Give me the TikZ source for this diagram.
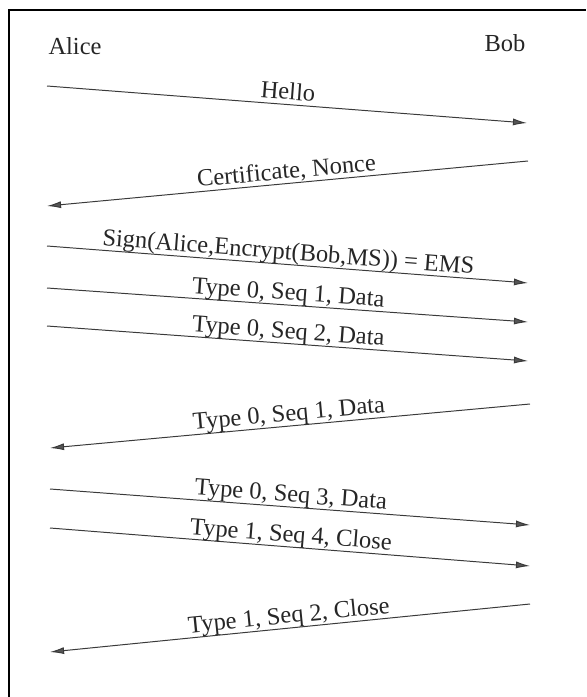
\documentclass[tikz,border=0pt]{standalone}
\usepackage{fontspec}
\setmainfont{Liberation Serif}
\usetikzlibrary{arrows.meta}
\definecolor{msggray}{HTML}{3A3A3A}
\definecolor{tipgray}{HTML}{555555}

\begin{document}
\begin{tikzpicture}[x=0.025cm, y=-0.025cm,
  every node/.style={font=\fontsize{17.4}{20}\selectfont, text=black!85},
  msg/.style={draw=msggray, line width=0.7pt, -{Latex[length=10pt,width=5pt,fill=tipgray]}},
  lbl/.style={sloped, anchor=base, inner sep=0pt, yshift=3.5pt}]
  \useasboundingbox (0,0) rectangle (586,697);
  \draw[line width=1.2pt] (9,697) -- (9,10) -- (586,10);
  \node (alice) at (75,46) {Alice};
  \node (bob) at (505,43) {Bob};
  % message end points
  \coordinate (a1) at (47,86);  \coordinate (b1) at (527,123);
  \coordinate (b2) at (528,161); \coordinate (a2) at (47,206);
  \coordinate (a3) at (47,246); \coordinate (b3) at (528,283);
  \coordinate (a4) at (47,288); \coordinate (b4) at (528,322);
  \coordinate (a5) at (47,326); \coordinate (b5) at (528,361);
  \coordinate (b6) at (530,404); \coordinate (a6) at (50,448);
  \coordinate (a7) at (50,489); \coordinate (b7) at (530,525);
  \coordinate (a8) at (50,528); \coordinate (b8) at (530,566);
  \coordinate (b9) at (530,604); \coordinate (a9) at (50,652);
  \draw[msg] (a1) -- node[lbl] {Hello} (b1);
  \draw[msg] (b2) -- node[lbl] {Certificate, Nonce} (a2);
  \draw[msg] (a3) -- node[lbl] {Sign(Alice,Encrypt(Bob,MS)) = EMS} (b3);
  \draw[msg] (a4) -- node[lbl] {Type 0, Seq 1, Data} (b4);
  \draw[msg] (a5) -- node[lbl] {Type 0, Seq 2, Data} (b5);
  \draw[msg] (b6) -- node[lbl] {Type 0, Seq 1, Data} (a6);
  \draw[msg] (a7) -- node[lbl] {Type 0, Seq 3, Data} (b7);
  \draw[msg] (a8) -- node[lbl] {Type 1, Seq 4, Close} (b8);
  \draw[msg] (b9) -- node[lbl] {Type 1, Seq 2, Close} (a9);
\end{tikzpicture}
\end{document}
